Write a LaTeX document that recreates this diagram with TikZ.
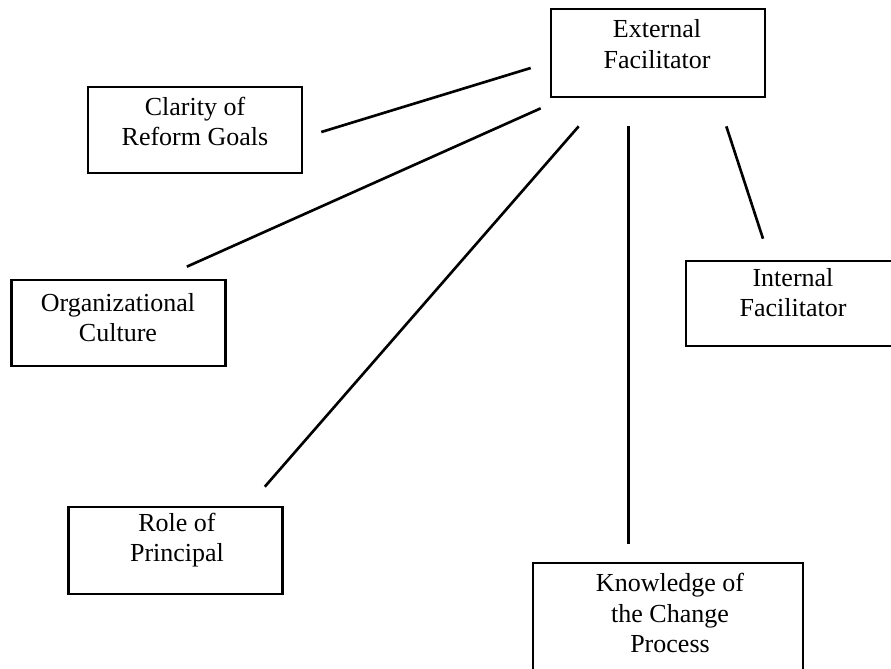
\documentclass[tikz,border=0pt]{standalone}
\usepackage{fontspec}
\setmainfont{Liberation Serif}
\usetikzlibrary{positioning, calc}

\begin{document}
\begin{tikzpicture}[
    box/.style={draw, line width=1.5pt, minimum width=4.28cm, minimum height=1.72cm, inner sep=0pt},
    txt/.style={align=center, font=\fontsize{14.8}{17.5}\selectfont, inner sep=0pt},
    link/.style={line width=1.5pt}
  ]
        \useasboundingbox (0,0) rectangle (17.82,-13.36);

        % boxes
        \node[box, minimum height=1.76cm] at (13.16,-1.06) (external) {};
        \node[box] at (3.90,-2.60) (clarity) {};
        \node[box] at (2.37,-6.46) (culture) {};
        \node[box, minimum height=1.70cm] at (15.86,-6.07) (internal) {};
        \node[box, minimum height=1.74cm] at (3.51,-11.01) (principal) {};
        \node[box, minimum width=5.4cm, minimum height=2.54cm] at (13.36,-12.53) (knowledge) {};

        % texts
        \node[txt] at (13.14,-0.88) (externaltext) {External\\Facilitator};
        \node[txt] at (3.90,-2.43) (claritytext) {Clarity of\\Reform Goals};
        \node[txt] at (2.36,-6.35) (culturetext) {Organizational\\Culture};
        \node[txt] at (15.86,-5.85) (internaltext) {Internal\\Facilitator};
        \node[txt] at (3.54,-10.80) (principaltext) {Role of\\Principal};
        \node[txt] at (13.40,-12.26) (knowledgetext) {Knowledge of\\the Change\\Process};

        % connectors
        \draw[link] ([shift={(0.36,-0.04)}]clarity.east) -- ([shift={(-0.38,-0.30)}]external.west);
        \draw[link] ([shift={(-0.80,0.24)}]culture.north east) -- ([shift={(-0.18,-0.20)}]external.south west);
        \draw[link] ([shift={(-0.38,0.38)}]principal.north east) -- ([shift={(0.58,-0.56)}]external.south west);
        \draw[link] ([shift={(-0.79,0.36)}]knowledge.north) -- ([shift={(-0.59,-0.56)}]external.south);
        \draw[link] ([shift={(-0.60,0.42)}]internal.north) -- ([shift={(-0.80,-0.56)}]external.south east);
    \end{tikzpicture}
\end{document}
